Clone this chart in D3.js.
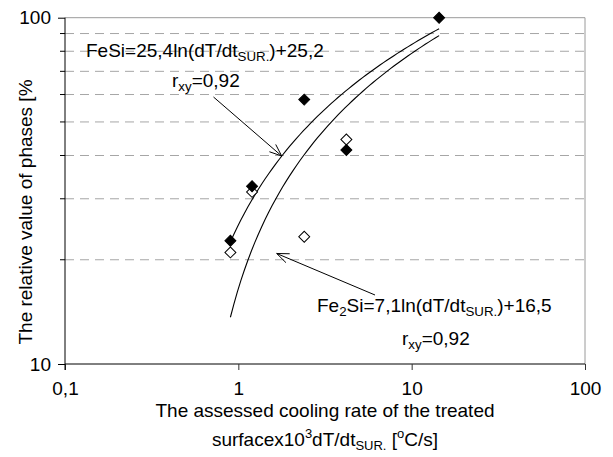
<!DOCTYPE html>
<html>
<head>
<meta charset="utf-8">
<script src="https://cdn.jsdelivr.net/npm/d3@7"></script>
<style>
  html, body { margin: 0; padding: 0; background: #fff; }
  svg { display: block; }
  text { font-family: "Liberation Sans", Arial, sans-serif; fill: #000; }
</style>
</head>
<body>
<svg id="chart" width="613" height="457"></svg>
<script>
// Measured phase shares against surface cooling rate
const coolingRates = [0.9, 1.2, 2.4, 4.2, 14.4];
const feSiValues   = [22.7, 32.6, 58, 41.5, 100];
const fe2SiRates   = [0.9, 1.2, 2.4, 4.2];
const fe2SiValues  = [21, 31.4, 23.3, 44.5];

// Logarithmic trend lines y = a*ln(x) + b
const trendNames  = ["FeSi", "Fe2Si"];
const trendSlopes = [25.4, 27.1];
const trendConsts = [25.2, 16.5];
const trendRange  = [0.9, 14.4];

// Axis ticks
const xTicks = [0.1, 1, 10, 100];
const xTickLabels = ["0,1", "1", "10", "100"];
const yTicks = [10, 100];
const yTickLabels = ["10", "100"];
const yGrid = [20, 30, 40, 50, 60, 70, 80, 90];

const svg = d3.select("#chart");
const plotL = 65, plotR = 585, plotT = 17.7, plotB = 364;
const FONT = "Liberation Sans, Arial, sans-serif";

const x = d3.scaleLog().domain([0.1, 100]).range([plotL, plotR]);
const y = d3.scaleLog().domain([10, 100]).range([plotB, plotT]);

// dashed horizontal grid
svg.append("g").selectAll("line").data(yGrid).join("line")
  .attr("x1", plotL).attr("x2", plotR)
  .attr("y1", d => y(d)).attr("y2", d => y(d))
  .attr("stroke", "#a6a6a6").attr("stroke-width", 1)
  .attr("stroke-dasharray", "9,6");

// grey frame on top and right
svg.append("path")
  .attr("d", `M${plotL},${y(100)}H${plotR}V${y(10)}`)
  .attr("fill", "none").attr("stroke", "#9a9a9a").attr("stroke-width", 1);

// x axis
const xAxis = d3.axisBottom(x).tickValues(xTicks)
  .tickFormat((d, i) => xTickLabels[i]).tickSize(6).tickPadding(12);
const gx = svg.append("g").attr("transform", `translate(0,${plotB})`).call(xAxis);
gx.select(".domain").attr("stroke", "#000").attr("d", `M${plotL},0H${plotR}`);
gx.selectAll(".tick line").attr("stroke", "#333");
gx.selectAll(".tick text").attr("font-size", 19).attr("font-family", FONT);

// y axis with minor ticks
const yAxis = d3.axisLeft(y).tickValues(yTicks)
  .tickFormat((d, i) => yTickLabels[i]).tickSize(7).tickPadding(7);
const gy = svg.append("g").attr("transform", `translate(${plotL},0)`).call(yAxis);
gy.select(".domain").attr("stroke", "#000").attr("d", `M0,${plotB + 6}V${plotT}`);
gy.selectAll(".tick line").attr("stroke", "#000");
gy.selectAll(".tick text").attr("font-size", 19).attr("font-family", FONT);
gy.append("g").selectAll("line").data(yGrid).join("line")
  .attr("x1", -5).attr("x2", 0)
  .attr("y1", d => y(d)).attr("y2", d => y(d))
  .attr("stroke", "#000");

// trend curves
const line = d3.line().x(d => x(d[0])).y(d => y(d[1]));
const lnMin = Math.log(trendRange[0]), lnMax = Math.log(trendRange[1]);
trendNames.forEach((name, k) => {
  const pts = d3.range(61).map(i => {
    const v = Math.exp(lnMin + (lnMax - lnMin) * i / 60);
    return [v, trendSlopes[k] * Math.log(v) + trendConsts[k]];
  });
  svg.append("path").datum(pts)
    .attr("class", "trend-" + name)
    .attr("d", line).attr("fill", "none")
    .attr("stroke", "#000").attr("stroke-width", 1.1);
});

// diamond markers
const diamond = d3.symbol().type(d3.symbolSquare).size(60);
svg.append("g").selectAll("path")
  .data(fe2SiRates.map((r, i) => [r, fe2SiValues[i]])).join("path")
  .attr("d", diamond)
  .attr("transform", d => `translate(${x(d[0])},${y(d[1])}) rotate(45)`)
  .attr("fill", "#fff").attr("stroke", "#000").attr("stroke-width", 1);
svg.append("g").selectAll("path")
  .data(coolingRates.map((r, i) => [r, feSiValues[i]])).join("path")
  .attr("d", diamond)
  .attr("transform", d => `translate(${x(d[0])},${y(d[1])}) rotate(45)`)
  .attr("fill", "#000").attr("stroke", "#000").attr("stroke-width", 1);

// annotation arrows with open heads
function arrow(x1, y1, x2, y2) {
  const a = Math.atan2(y2 - y1, x2 - x1);
  const L = 13, s = 0.38;
  svg.append("line").attr("x1", x1).attr("y1", y1).attr("x2", x2).attr("y2", y2)
    .attr("stroke", "#000").attr("stroke-width", 1);
  svg.append("path")
    .attr("d", `M${x2 - L * Math.cos(a - s)},${y2 - L * Math.sin(a - s)}L${x2},${y2}L${x2 - L * Math.cos(a + s)},${y2 - L * Math.sin(a + s)}`)
    .attr("fill", "none").attr("stroke", "#000").attr("stroke-width", 1);
}
arrow(213.5, 97, 281.7, 156);
arrow(375, 295, 276.7, 253.5);

// equation labels with sub/superscripts
function richText(xp, yp, parts, size) {
  const t = svg.append("text").attr("x", xp).attr("y", yp).attr("font-size", size);
  parts.forEach(p => {
    const s = t.append("tspan").text(p.t);
    if (p.sub) s.attr("font-size", size * 0.7).attr("dy", 4);
    if (p.back) s.attr("dy", p.back);
  });
  return t;
}
const F = 19;
richText(86, 57, [
  {t: "FeSi=25,4ln(dT/dt"}, {t: "SUR.", sub: true}, {t: ")+25,2", back: -4}
], F);
richText(172, 87, [{t: "r"}, {t: "xy", sub: true}, {t: "=0,92", back: -4}], F);
richText(317, 312, [
  {t: "Fe"}, {t: "2", sub: true}, {t: "Si=7,1ln(dT/dt", back: -4}, {t: "SUR.", sub: true}, {t: ")+16,5", back: -4}
], F);
richText(402, 345, [{t: "r"}, {t: "xy", sub: true}, {t: "=0,92", back: -4}], F);

// axis titles
svg.append("text")
  .attr("transform", `translate(32,212) rotate(-90)`)
  .attr("text-anchor", "middle").attr("font-size", F)
  .text("The relative value of phases [%");
svg.append("text").attr("x", 325).attr("y", 417)
  .attr("text-anchor", "middle").attr("font-size", F)
  .text("The assessed cooling rate of the treated");
const t2 = svg.append("text").attr("x", 325).attr("y", 446)
  .attr("text-anchor", "middle").attr("font-size", F);
t2.append("tspan").text("surfacex10");
t2.append("tspan").text("3").attr("font-size", 13).attr("dy", -8);
t2.append("tspan").text("dT/dt").attr("dy", 8);
t2.append("tspan").text("SUR.").attr("font-size", 13).attr("dy", 4);
t2.append("tspan").text(" [").attr("dy", -4);
t2.append("tspan").text("o").attr("font-size", 13).attr("dy", -8);
t2.append("tspan").text("C/s]").attr("dy", 8);
</script>
</body>
</html>
